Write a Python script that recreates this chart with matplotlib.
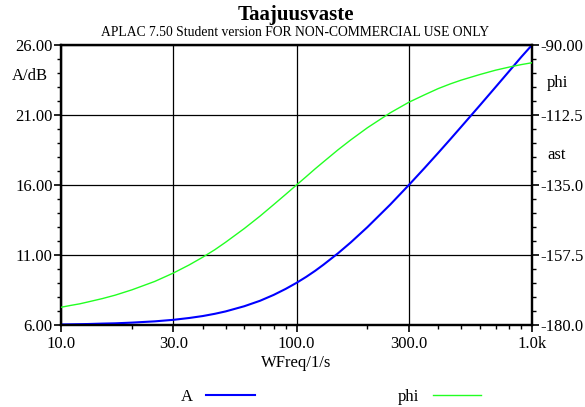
import numpy as np
from matplotlib import pyplot as plt
from matplotlib.ticker import FixedLocator, NullFormatter

plt.rcParams['font.family'] = ['Liberation Serif', 'DejaVu Serif']

# frequency points (1/s)
freq = [10, 11, 12, 13, 15, 17, 20, 25, 30, 35, 40, 45, 50, 60, 70, 80, 90, 100,
        110, 120, 130, 150, 170, 200, 250, 300, 350, 400, 450, 500, 600, 700, 800, 900, 1000]
# amplitude A/dB
amp = [6.04, 6.05, 6.06, 6.07, 6.10, 6.12, 6.17, 6.26, 6.37, 6.50, 6.64, 6.80, 6.97, 7.34, 7.73, 8.15, 8.58, 9.01,
       9.44, 9.87, 10.30, 11.12, 11.90, 12.99, 14.60, 16.00, 17.22, 18.30, 19.27, 20.15, 21.68, 22.99, 24.13, 25.14, 26.0]
# phase phi/aste
phase = [-174.3, -173.7, -173.2, -172.6, -171.5, -170.4, -168.7, -166.0, -163.3, -160.7, -158.2, -155.8, -153.4,
         -149.0, -145.0, -141.3, -138.0, -135.0,
         -132.3, -129.8, -127.6, -123.7, -120.5, -116.6, -111.8, -108.4, -106.0, -104.0, -102.5, -101.3,
         -99.5, -98.1, -97.1, -96.3, -95.7]

xticks = [10, 30, 100, 300, 1000]
xticklabels = ["10.0", "30.0", "100.0", "300.0", "1.0k"]
xminor = [20, 40, 50, 60, 70, 80, 90, 200, 400, 500, 600, 700, 800, 900]
yticks = [6, 11, 16, 21, 26]
yticklabels = ["6.00", "11.00", "16.00", "21.00", "26.00"]
y2ticks = [-180, -157.5, -135, -112.5, -90]
y2ticklabels = ["-180.0", "-157.5", "-135.0", "-112.5", "-90.00"]

fig = plt.figure(figsize=(5.85, 4.07), dpi=100)
ax = fig.add_axes([61/585, 1-325/407, 471/585, 280/407])
ax2 = ax.twinx()

ax.plot(freq, amp, color="#0000ff", lw=1.5, label="A", zorder=5)
ax2.plot(freq, phase, color="#22ff22", lw=1.0, label="phi", zorder=5)

ax.set_xscale("log")
ax.set_xlim(10, 1000)
ax.set_ylim(6, 26)
ax2.set_ylim(-180, -90)

ax.xaxis.set_major_locator(FixedLocator(xticks))
ax.set_xticklabels(xticklabels)
ax.xaxis.set_minor_locator(FixedLocator(xminor))
ax.xaxis.set_minor_formatter(NullFormatter())
ax.set_yticks(yticks)
ax.set_yticklabels(yticklabels)
ax.yaxis.set_minor_locator(FixedLocator(np.arange(6, 26, 1)))
ax2.set_yticks(y2ticks)
ax2.set_yticklabels(y2ticklabels)
ax2.yaxis.set_minor_locator(FixedLocator(np.arange(-180, -90, 4.5)))

ax.grid(True, which="major", color="black", lw=0.9)
for a in (ax, ax2):
    for s in a.spines.values():
        s.set_linewidth(1.6)
    a.tick_params(which="major", length=5, width=1.2, labelsize=12, pad=1, direction="out")
    a.tick_params(which="minor", length=3, width=1.0, direction="out")
ax.tick_params(axis="x", pad=3)

ax.set_xlabel("WFreq/1/s", fontsize=12, labelpad=2)
fig.text(30/585, 1-76/407, "A/dB", fontsize=12, ha="center", va="center")
fig.text(557/585, 1-83/407, "phi", fontsize=12, ha="center", va="center")
fig.text(557/585, 1-155/407, "ast", fontsize=12, ha="center", va="center")

fig.text(296/585, 1-15/407, "Taajuusvaste", fontsize=15, fontweight="bold", ha="center", va="center")
fig.text(295/585, 1-33/407, "APLAC 7.50 Student version FOR NON-COMMERCIAL USE ONLY",
         fontsize=9.8, ha="center", va="center")

h1, l1 = ax.get_legend_handles_labels()
h2, l2 = ax2.get_legend_handles_labels()
fig.legend(h1 + h2, l1 + l2, ncol=2, frameon=False, markerfirst=False,
           loc="center", bbox_to_anchor=(331/585, 1-397/407), fontsize=12,
           handlelength=2.9, handletextpad=0.8, columnspacing=8.6)

plt.savefig("out.png")
